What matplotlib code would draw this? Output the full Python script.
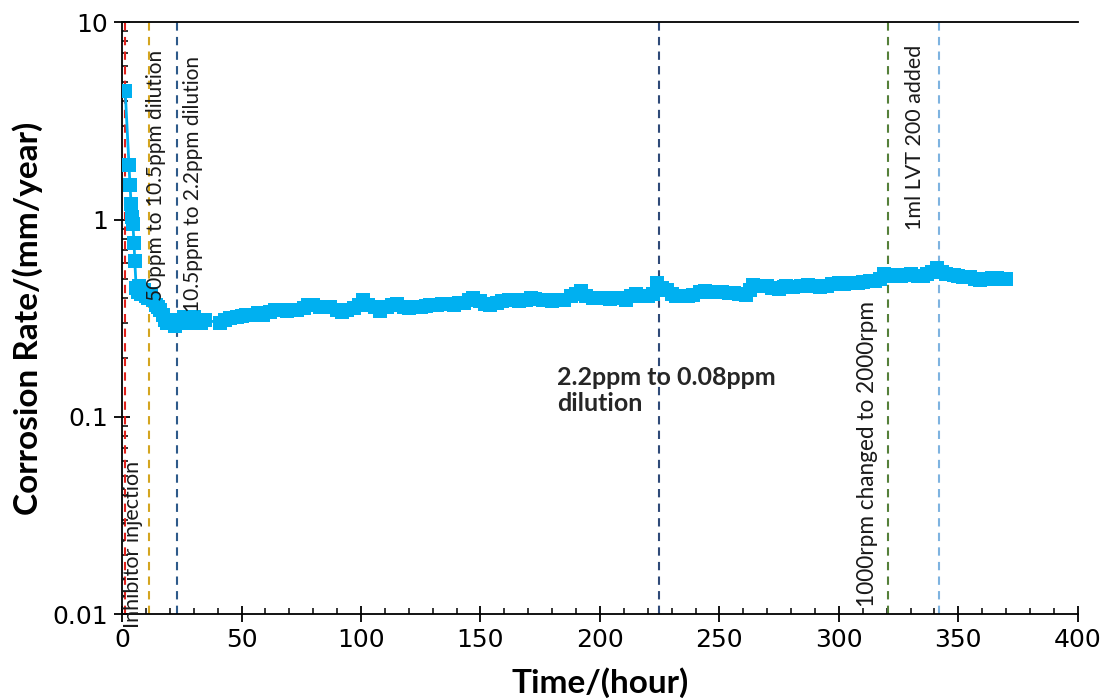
import matplotlib

matplotlib.use("Agg")
import matplotlib.pyplot as plt
import matplotlib.transforms as mtransforms
from matplotlib.ticker import LogLocator, MultipleLocator, FixedFormatter, FixedLocator

# Corrosion rate log (hours, mm/year)
hours_early = [0.5, 1.3, 2.9, 3.3, 3.8, 4.1, 4.5, 5.0, 5.3, 5.9, 6.5, 7.0, 8.0,
               9.0, 10.0, 11.0, 12.0, 13.0, 14.0, 15.0, 16.0, 17.0, 18.0, 19.0,
               20.0, 21.0, 22.0, 23.0, 24.0, 25.0, 26.0, 27.0, 28.0, 29.0, 30.0,
               31.0, 32.0, 33.0, 34.5]
rate_early = [4.5, 4.5, 1.9, 1.5, 1.2, 1.03, 0.95, 0.76, 0.62, 0.45, 0.43, 0.46,
              0.42, 0.44, 0.41, 0.40, 0.42, 0.39, 0.37, 0.36, 0.35, 0.33, 0.31,
              0.30, 0.31, 0.30, 0.29, 0.30, 0.31, 0.30, 0.32, 0.31, 0.30, 0.31,
              0.32, 0.30, 0.31, 0.30, 0.31]

hours_late = [41, 43, 45, 48, 50, 52, 55, 57, 59, 62, 64, 66, 69, 71, 73, 76, 78,
              80, 83, 85, 87, 90, 92, 94, 97, 99, 101, 103, 106, 108, 111, 113,
              115, 118, 120, 122, 125, 127, 129, 132, 134, 136, 139, 141, 143,
              145, 147, 150, 152, 154, 157, 159, 162, 164, 166, 169, 171, 173,
              176, 178, 180, 183, 185, 188, 190, 192, 194, 197, 199, 201, 204,
              206, 208, 211, 213, 215, 218, 220, 222, 224, 226, 228, 230, 232,
              235, 237, 239, 242, 244, 246, 249, 251, 254, 256, 258, 261, 263,
              264, 267, 270, 272, 275, 277, 278, 281, 284, 287, 289, 292, 295,
              297, 300, 302, 305, 308, 310, 313, 315, 317, 319, 321, 323, 326,
              328, 330, 333, 335, 337, 339, 341, 343, 345, 348, 350, 352, 355,
              357, 359, 362, 364, 366, 368, 370]
rate_late = [0.30, 0.31, 0.318, 0.32, 0.325, 0.33, 0.33, 0.335, 0.33, 0.34, 0.35,
             0.35, 0.345, 0.35, 0.35, 0.355, 0.37, 0.37, 0.36, 0.36, 0.36, 0.35,
             0.34, 0.35, 0.355, 0.37, 0.39, 0.37, 0.36, 0.345, 0.36, 0.37, 0.375,
             0.36, 0.355, 0.36, 0.36, 0.365, 0.37, 0.37, 0.375, 0.375, 0.37,
             0.38, 0.38, 0.39, 0.40, 0.385, 0.375, 0.37, 0.38, 0.385, 0.39, 0.39,
             0.385, 0.39, 0.40, 0.395, 0.39, 0.39, 0.385, 0.39, 0.39, 0.41, 0.42,
             0.436, 0.41, 0.40, 0.40, 0.40, 0.395, 0.40, 0.40, 0.39, 0.41, 0.42,
             0.41, 0.41, 0.42, 0.48, 0.45, 0.44, 0.42, 0.41, 0.41, 0.41, 0.415,
             0.43, 0.435, 0.43, 0.43, 0.43, 0.425, 0.425, 0.42, 0.415, 0.44,
             0.465, 0.46, 0.46, 0.45, 0.445, 0.455, 0.46, 0.455, 0.46, 0.465,
             0.46, 0.455, 0.46, 0.47, 0.475, 0.47, 0.475, 0.48, 0.485, 0.49,
             0.49, 0.50, 0.53, 0.52, 0.525, 0.52, 0.525, 0.53, 0.52, 0.52, 0.53,
             0.54, 0.57, 0.545, 0.53, 0.525, 0.52, 0.51, 0.51, 0.50, 0.495, 0.50,
             0.505, 0.505, 0.50, 0.50]

# Test events (hours) and their notes
event_hours = [1.3, 11.3, 23.0, 224.7, 320.5, 341.8]
event_notes = [
    "Inhibitor injection",
    "50ppm to 10.5ppm dilution",
    "10.5ppm to 2.2ppm dilution",
    "2.2ppm to 0.08ppm\ndilution",
    "1000rpm changed to 2000rpm",
    "1ml LVT 200 added",
]

event_colors = ["#e0201b", "#d4a520", "#2e5a8a", "#2f4a78", "#55803a", "#7eb3e0"]
# where each note sits: x in hours, y in axes fraction, font size
note_place = [(4.6, -0.024, 15.5), (14.0, 0.530, 15.0), (29.7, 0.510, 15.0),
              None, (312.0, 0.013, 16.3), (331.8, 0.649, 15.5)]

LABEL_FONT = "Lato"
TICK_FONT = "DejaVu Sans"
LINE_BLUE = "#00b0f0"

fig = plt.figure(figsize=(11.1, 6.98), dpi=100)
ax = fig.add_axes([0.110, 0.120, 0.861, 0.848])

hours = hours_early + hours_late
rate = rate_early + rate_late
ax.plot(hours, rate, color=LINE_BLUE, lw=2, marker="s", ms=9.5,
        markeredgewidth=0, zorder=3)

for h, c in zip(event_hours, event_colors):
    ax.axvline(h, color=c, lw=1.5, ls=(0, (4, 3)), zorder=2)

trans = mtransforms.blended_transform_factory(ax.transData, ax.transAxes)
for note, place in zip(event_notes, note_place):
    if place is None:
        continue
    xh, yb, fs = place
    ax.text(xh, yb, note, rotation=90, ha="center", va="bottom",
            transform=trans, fontsize=fs, family=LABEL_FONT, color="#1a1a1a",
            clip_on=False, zorder=4)

# the 224 h dilution note is written flat, to the left of its line
ax.text(182, 0.42, event_notes[3], transform=trans,
        ha="left", va="top", fontsize=18, fontweight="bold",
        family=LABEL_FONT, color="#262626", linespacing=1.2)

ax.set_yscale("log")
ax.set_xlim(0, 400)
ax.set_ylim(0.01, 10)

ax.xaxis.set_major_locator(MultipleLocator(50))
ax.xaxis.set_minor_locator(MultipleLocator(10))
ax.yaxis.set_major_locator(FixedLocator([0.01, 0.1, 1, 10]))
ax.yaxis.set_major_formatter(FixedFormatter(["0.01", "0.1", "1", "10"]))
ax.yaxis.set_minor_locator(LogLocator(base=10, subs=range(2, 10)))
ax.yaxis.set_minor_formatter(plt.NullFormatter())

ax.tick_params(which="major", direction="inout", length=12, width=1.3,
               labelsize=18, pad=4)
ax.tick_params(which="minor", direction="in", length=4, width=1.1)
ax.tick_params(axis="x", which="both", top=False)
ax.tick_params(axis="y", which="both", right=False)
for lab in ax.get_xticklabels() + ax.get_yticklabels():
    lab.set_family(TICK_FONT)

ax.spines["right"].set_visible(False)
for side in ("left", "bottom", "top"):
    ax.spines[side].set_linewidth(1.3)

ax.set_xlabel("Time/(hour)", fontsize=24, fontweight="bold", family=LABEL_FONT,
              labelpad=11)
ax.set_ylabel("Corrosion Rate/(mm/year)", fontsize=24, fontweight="bold",
              family=LABEL_FONT, labelpad=7)

fig.savefig("out.png", dpi=100)
